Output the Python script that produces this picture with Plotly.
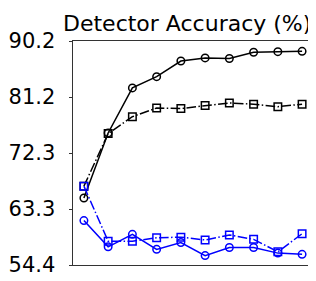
import plotly.graph_objects as go

x_vals = list(range(10))
black_circle = [65.1, 75.5, 82.7, 84.5, 87.0, 87.5, 87.4, 88.4, 88.5, 88.55]
black_square = [67.0, 75.4, 78.1, 79.5, 79.4, 79.9, 80.3, 80.1, 79.7, 80.1]
blue_circle = [61.5, 57.3, 59.3, 56.9, 58.0, 55.9, 57.2, 57.2, 56.3, 56.1]
blue_square = [67.0, 58.2, 58.2, 58.75, 58.85, 58.4, 59.2, 58.5, 56.5, 59.4]
y_ticks = [54.4, 63.35, 72.3, 81.25, 90.2]
y_tick_labels = ["54.4", "63.3", "72.3", "81.2", "90.2"]
title_text = "Detector Accuracy (%)"

dashdot = "9.6px,2.4px,1.5px,2.4px"

series = [
    (black_circle, "black", "circle-open", "solid"),
    (black_square, "black", "square-open", dashdot),
    (blue_circle, "#0000ff", "circle-open", "solid"),
    (blue_square, "#0000ff", "square-open", dashdot),
]

fig = go.Figure()
for ys, col, sym, dash in series:
    fig.add_trace(go.Scatter(
        x=x_vals, y=ys, mode="lines+markers",
        line=dict(color=col, width=1.5, dash=dash),
        marker=dict(symbol=sym, size=7.5, color=col, line=dict(color=col, width=1.5)),
        showlegend=False,
    ))

fig.update_layout(
    width=316, height=281,
    margin=dict(l=65, r=11, t=33, b=24),
    paper_bgcolor="white", plot_bgcolor="white",
    font=dict(family="DejaVu Sans", size=20, color="black"),
    xaxis=dict(range=[-0.45, 9.45], showticklabels=False, ticks="", showgrid=False,
               automargin=False,
               zeroline=False, showline=True, linecolor="#333333", linewidth=1, mirror=True),
    yaxis=dict(range=[54.4, 90.2], tickvals=y_ticks, ticktext=y_tick_labels,
               ticks="outside", ticklen=3.5, tickwidth=1, tickcolor="#333333",
               ticklabelstandoff=9, automargin=False,
               showgrid=False, zeroline=False, showline=True, linecolor="#333333",
               linewidth=1, mirror=True, tickfont=dict(size=21, color="black")),
    annotations=[dict(text=title_text, xref="paper", yref="paper", x=1, y=1,
                      xanchor="right", yanchor="bottom", yshift=3, showarrow=False,
                      font=dict(size=22, color="black"))],
)

fig.write_html("out.html")
